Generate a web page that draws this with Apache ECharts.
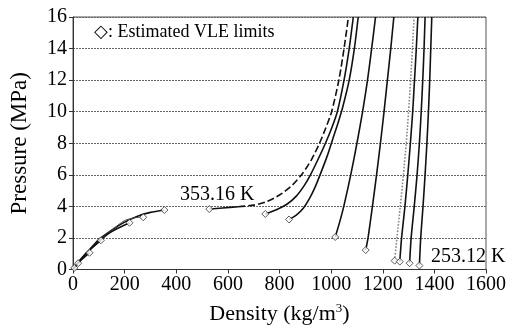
<!DOCTYPE html>
<html>
<head>
<meta charset="UTF-8">
<title>VLE density chart</title>
<script type="text/javascript" src="https://cdn.jsdelivr.net/npm/echarts@6/dist/echarts.min.js"></script>
<style>
  html, body { margin: 0; padding: 0; background: #fff; }
</style>
</head>
<body>
<div id="main" style="width:509px; height:330px;"></div>
<script type="text/javascript">
// vapour-side isotherms [density, pressure]
var vap1 = [[0, 0], [20, 0.45], [50, 1.0], [100, 1.9], [150, 2.5], [200, 3.0], [250, 3.38], [300, 3.62], [354, 3.77]];
var vap2 = [[0, 0], [50, 1.0], [100, 1.85], [150, 2.5], [200, 3.1], [240, 3.28], [272, 3.31]];
var vap3 = [[0, 0], [50, 0.98], [100, 1.78], [150, 2.4], [219, 2.96]];
var vap4 = [[0, 0], [50, 1.02], [108, 1.85]];
var vap5 = [[0, 0], [30, 0.58], [64, 1.06]];
var vap6 = [[0, 0], [20, 0.4]];

// liquid-side isotherms
var liq353solid = [[528, 3.83], [580, 3.9], [640, 3.98]];
var liq353dash = [[640, 3.98], [700, 4.08], [750, 4.3], [800, 4.72], [850, 5.35], [890, 6.1], [925, 7], [955, 8], [980, 9], [1002, 10], [1030, 12], [1050, 14], [1067, 16]];
var liqB = [[745, 3.52], [790, 3.8], [830, 4.15], [865, 4.65], [895, 5.3], [920, 6], [950, 7], [978, 8], [1003, 9], [1024, 10], [1050, 12], [1070, 14], [1086, 16]];
var liqC = [[837, 3.17], [865, 3.45], [893, 3.9], [918, 4.55], [940, 5.3], [962, 6.2], [985, 7.2], [1007, 8.3], [1027, 9.3], [1045, 10.3], [1070, 12], [1090, 14], [1105, 16]];
var liqD = [[1016, 2.06], [1033, 3], [1049, 4], [1076, 6], [1100, 8], [1122, 10], [1141, 12], [1157, 14], [1172, 16]];
var liqE = [[1134, 1.23], [1143, 2], [1160, 4], [1176, 6], [1191, 8], [1205, 10], [1218, 12], [1231, 14], [1243, 16]];
var liqF = [[1246, 0.56], [1255, 2], [1268, 4], [1280, 6], [1291, 8], [1300, 10], [1308, 12], [1315, 14], [1321, 16]];
var liqG = [[1266, 0.5], [1273, 2], [1286, 4], [1297, 6], [1307, 8], [1316, 10], [1323, 12], [1330, 14], [1336, 16]];
var liqH = [[1304, 0.4], [1310, 2], [1322, 4], [1333, 6], [1342, 8], [1349, 10], [1355, 12], [1360, 14], [1364, 16]];
var liqI = [[1342, 0.25], [1347, 2], [1356, 4], [1364, 6], [1371, 8], [1377, 10], [1382, 12], [1386, 14], [1390, 16]];

// estimated VLE limits (diamonds)
var vleLimits = [[354, 3.77], [272, 3.31], [219, 2.96], [108, 1.85], [64, 1.06], [20, 0.4], [5, 0.1],
  [528, 3.83], [745, 3.52], [837, 3.17], [1016, 2.06], [1134, 1.23], [1246, 0.56], [1266, 0.5], [1304, 0.4], [1342, 0.25]];

var serif = 'Liberation Serif';

function curve(data, color, type, width) {
  return {
    type: 'line',
    data: data,
    smooth: 0.25,
    showSymbol: false,
    silent: true,
    lineStyle: { color: color || '#111', type: type || 'solid', width: width || 1.6 }
  };
}

var myChart = echarts.init(document.getElementById('main'));

var option = {
  animation: false,
  grid: { left: 73, right: 13, top: 17, bottom: 57, show: true, borderColor: '#555', borderWidth: 1 },
  xAxis: {
    type: 'value', min: 0, max: 1600, interval: 200,
    name: 'Density (kg/m{sup|3})', nameLocation: 'middle', nameGap: 33,
    nameTextStyle: {
      fontFamily: serif, fontSize: 22, color: '#000',
      rich: { sup: { fontFamily: serif, fontSize: 13, verticalAlign: 'top', padding: [0, 0, 10, 0], color: '#000' } }
    },
    axisLine: { lineStyle: { color: '#333' } },
    axisTick: { lineStyle: { color: '#333' }, length: 4 },
    axisLabel: { fontFamily: serif, fontSize: 20, color: '#000', margin: 5, formatter: function (v) { return String(v); } },
    splitLine: { show: false }
  },
  yAxis: {
    type: 'value', min: 0, max: 16, interval: 2,
    name: 'Pressure (MPa)', nameLocation: 'middle', nameGap: 42,
    nameTextStyle: { fontFamily: serif, fontSize: 23, color: '#000' },
    axisLine: { show: true, lineStyle: { color: '#333' } },
    axisTick: { show: true, lineStyle: { color: '#333' }, length: 4 },
    axisLabel: { fontFamily: serif, fontSize: 20, color: '#000', margin: 6 },
    splitLine: { show: true, lineStyle: { color: '#666', type: [2, 1], width: 1 } }
  },
  graphic: [
    { type: 'text', left: 94, top: 23, style: { text: '◇: Estimated VLE limits', font: '18px "Liberation Serif"', fill: '#000' } },
    { type: 'text', left: 180, top: 185, style: { text: '353.16 K', font: '20px "Liberation Serif"', fill: '#000' } },
    { type: 'text', left: 431, top: 247, style: { text: '253.12 K', font: '20px "Liberation Serif"', fill: '#000' } }
  ],
  series: [
    curve(vap1), curve(vap2, '#444', 'solid', 1), curve(vap3), curve(vap4), curve(vap5), curve(vap6),
    curve(liq353solid), curve(liq353dash, '#111', [7, 3]),
    curve(liqB), curve(liqC), curve(liqD), curve(liqE),
    curve(liqF, '#888', 'dotted', 1.6), curve(liqG), curve(liqH), curve(liqI),
    {
      type: 'scatter',
      data: vleLimits,
      symbol: 'diamond',
      symbolSize: 7,
      silent: true,
      itemStyle: { color: '#fff', borderColor: '#333', borderWidth: 1 },
      z: 5
    }
  ]
};

myChart.setOption(option);
</script>
</body>
</html>
